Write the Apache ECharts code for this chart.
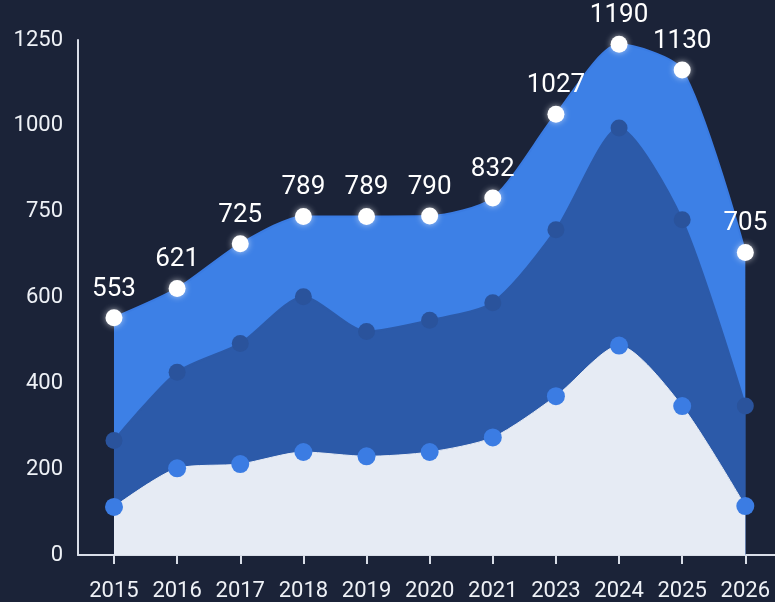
<!DOCTYPE html>
<html><head><meta charset="utf-8">
<script src="https://cdn.jsdelivr.net/npm/echarts@6/dist/echarts.min.js"></script>
<style>html,body{margin:0;padding:0;background:#1b2338;}#c{width:775px;height:602px;}</style>
</head><body><div id="c"></div>
<script>
var years = ['2015','2016','2017','2018','2019','2020','2021','2023','2024','2025','2026'];
var totalValues = [553, 621, 725, 789, 789, 790, 832, 1027, 1190, 1130, 705];
var middleValues = [267, 426, 493, 602, 521, 547, 588, 758, 995, 781, 347];
var bottomValues = [112, 202, 212, 240, 230, 240, 274, 370, 488, 347, 114];
var yTickValues = [0, 200, 400, 600, 800, 1000, 1200];
var yTickLabels = ['0', '200', '400', '600', '750', '1000', '1250'];

function pairs(arr){ return arr.map(function(v,i){ return [i, v]; }); }
var idx = years.map(function(_, i){ return i; });

var chart = echarts.init(document.getElementById('c'), null, {renderer:'canvas'});
chart.setOption({
  backgroundColor: '#1b2338',
  animation: false,
  grid: {left: 78, right: 0, top: 40, bottom: 46, containLabel: false},
  xAxis: {
    type: 'value', min: -0.57, max: 10.47,
    splitLine: {show: false},
    axisLine: {show: true, onZero: false, lineStyle: {color: '#d9dee8', width: 2}},
    axisTick: {show: true, customValues: idx, length: 9, lineStyle: {color: '#d9dee8', width: 2}},
    axisLabel: {customValues: idx, color: '#eef1f6', fontSize: 22, fontFamily: 'Roboto', margin: 25,
      formatter: function(v){ return years[Math.round(v)]; }}
  },
  yAxis: {
    type: 'value', min: 0, max: 1200, interval: 200,
    splitLine: {show: false},
    axisLine: {show: true, onZero: false, lineStyle: {color: '#d9dee8', width: 2}},
    axisTick: {show: false},
    axisLabel: {color: '#eef1f6', fontSize: 22, fontFamily: 'Roboto', margin: 15,
      formatter: function(v){ var k = yTickValues.indexOf(v); return k >= 0 ? yTickLabels[k] : ''; }}
  },
  series: [
    {
      type: 'line', data: pairs(totalValues), smooth: 0.25,
      symbol: 'circle', symbolSize: 17,
      itemStyle: {color: '#ffffff', shadowColor: 'rgba(255,255,255,0.6)', shadowBlur: 6},
      lineStyle: {color: '#3a7be2', width: 2},
      areaStyle: {color: '#3d80e6', opacity: 1},
      label: {show: true, position: 'top', distance: 7, color: '#ffffff', fontSize: 26, fontFamily: 'Roboto'},
      z: 2
    },
    {
      type: 'line', data: pairs(middleValues), smooth: 0.25,
      symbol: 'circle', symbolSize: 17,
      itemStyle: {color: '#2a539c'},
      lineStyle: {color: '#2c5aa9', width: 2},
      areaStyle: {color: '#2c5aa9', opacity: 1},
      z: 3
    },
    {
      type: 'line', data: pairs(bottomValues), smooth: 0.25,
      symbol: 'circle', symbolSize: 18,
      itemStyle: {color: '#3b7ce3'},
      lineStyle: {color: '#e6ebf4', width: 1},
      areaStyle: {color: '#e6ebf4', opacity: 1},
      z: 4
    }
  ]
});
</script></body></html>
